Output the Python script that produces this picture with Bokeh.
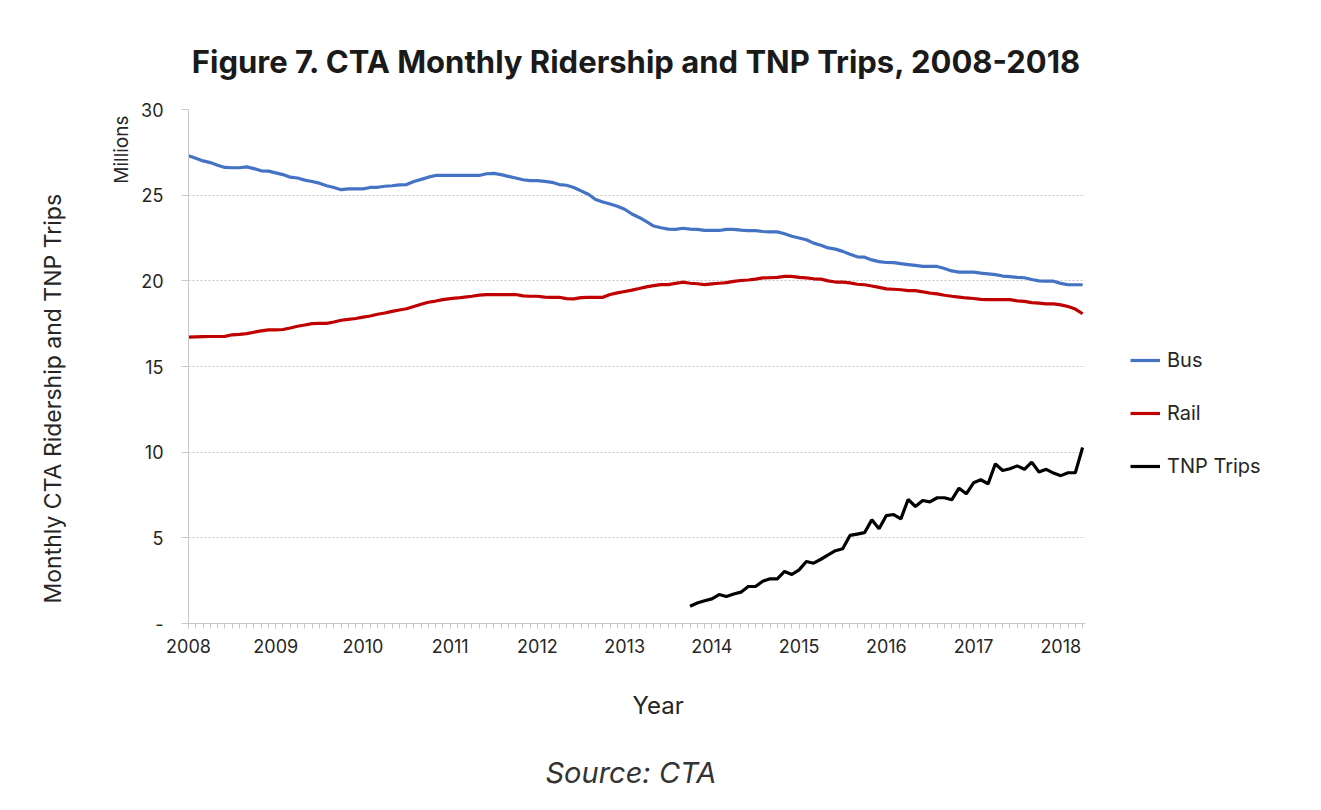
from bokeh.plotting import figure
from bokeh.models import Legend, LegendItem, FixedTicker, Range1d, Title
from bokeh.embed import file_html
from bokeh.resources import INLINE

# ---- data (millions) ----
year_labels = ["2008", "2009", "2010", "2011", "2012", "2013", "2014", "2015", "2016", "2017", "2018"]

bus = [
    27.30, 27.15, 27.00, 26.90, 26.75, 26.62, 26.60, 26.60, 26.65, 26.55,
    26.42, 26.40, 26.30, 26.20, 26.05, 26.00, 25.88, 25.80, 25.70, 25.55,
    25.45, 25.32, 25.37, 25.37, 25.37, 25.45, 25.46, 25.52, 25.55, 25.60,
    25.62, 25.80, 25.92, 26.05, 26.15, 26.15, 26.15, 26.15, 26.15, 26.15,
    26.15, 26.25, 26.27, 26.20, 26.10, 26.00, 25.90, 25.85, 25.85, 25.80,
    25.75, 25.62, 25.58, 25.45, 25.25, 25.05, 24.75, 24.60, 24.48, 24.35,
    24.18, 23.90, 23.70, 23.45, 23.20, 23.10, 23.02, 23.00, 23.07, 23.02,
    23.00, 22.95, 22.94, 22.94, 23.00, 23.00, 22.96, 22.93, 22.93, 22.88,
    22.86, 22.86, 22.75, 22.60, 22.50, 22.40, 22.20, 22.08, 21.92, 21.85,
    21.72, 21.55, 21.40, 21.38, 21.22, 21.12, 21.07, 21.06, 21.00, 20.95,
    20.90, 20.84, 20.84, 20.84, 20.72, 20.58, 20.51, 20.51, 20.51, 20.45,
    20.41, 20.36, 20.28, 20.25, 20.20, 20.18, 20.08, 20.00, 19.98, 19.98,
    19.85, 19.77, 19.77, 19.77,
]

rail = [
    16.71, 16.73, 16.74, 16.75, 16.75, 16.76, 16.85, 16.88, 16.92, 17.00,
    17.08, 17.14, 17.14, 17.16, 17.25, 17.35, 17.42, 17.50, 17.52, 17.52,
    17.60, 17.70, 17.75, 17.80, 17.88, 17.95, 18.05, 18.12, 18.22, 18.30,
    18.37, 18.50, 18.63, 18.75, 18.82, 18.90, 18.96, 19.00, 19.05, 19.10,
    19.17, 19.20, 19.20, 19.20, 19.20, 19.20, 19.12, 19.10, 19.10, 19.05,
    19.04, 19.04, 18.96, 18.95, 19.02, 19.04, 19.04, 19.04, 19.20, 19.30,
    19.38, 19.46, 19.55, 19.65, 19.72, 19.78, 19.78, 19.85, 19.92, 19.86,
    19.83, 19.78, 19.82, 19.86, 19.90, 19.97, 20.02, 20.05, 20.10, 20.17,
    20.18, 20.20, 20.26, 20.26, 20.20, 20.17, 20.12, 20.10, 20.00, 19.93,
    19.92, 19.88, 19.80, 19.77, 19.70, 19.62, 19.53, 19.51, 19.48, 19.43,
    19.43, 19.36, 19.28, 19.24, 19.16, 19.10, 19.05, 19.00, 18.97, 18.92,
    18.90, 18.90, 18.90, 18.90, 18.83, 18.80, 18.73, 18.70, 18.66, 18.66,
    18.60, 18.50, 18.35, 18.08,
]

# TNP trips start October 2013 (month index 69)
tnp_start_index = 69
tnp = [
    1.01, 1.20, 1.33, 1.44, 1.69, 1.58, 1.72, 1.83, 2.16, 2.16,
    2.47, 2.61, 2.61, 3.04, 2.86, 3.13, 3.62, 3.52, 3.75, 4.00,
    4.25, 4.36, 5.14, 5.22, 5.30, 6.05, 5.53, 6.30, 6.36, 6.11,
    7.24, 6.83, 7.18, 7.10, 7.34, 7.34, 7.22, 7.90, 7.57, 8.21,
    8.39, 8.15, 9.32, 8.93, 9.03, 9.20, 9.00, 9.42, 8.84, 9.00,
    8.78, 8.63, 8.80, 8.80, 10.27,
]

y_ticks = [0, 5, 10, 15, 20, 25, 30]
y_tick_labels = ["-", "5", "10", "15", "20", "25", "30"]

month_idx = list(range(len(bus)))
tnp_idx = list(range(tnp_start_index, tnp_start_index + len(tnp)))
year_pos = [12 * i for i in range(len(year_labels))]

FONT = "Inter"
TXT = "#262626"

p = figure(frame_width=897, frame_height=514, output_backend="svg", toolbar_location=None,
           x_range=Range1d(0, 123.4), y_range=Range1d(0, 30),
           min_border_left=188, min_border_right=225, min_border_top=109, min_border_bottom=0)
p.outline_line_color = None
p.background_fill_color = "white"
p.border_fill_color = "white"

# grid
p.xgrid.grid_line_color = None
p.ygrid.grid_line_color = "#c8c8c8"
p.ygrid.grid_line_dash = "2 2"
p.ygrid.grid_line_width = 1

# x axis
p.xaxis.ticker = FixedTicker(ticks=year_pos, minor_ticks=month_idx + [124])
p.xaxis.major_label_overrides = {pos: lab for pos, lab in zip(year_pos, year_labels)}
p.xaxis.axis_line_color = "#c8c8c8"
p.xaxis.major_tick_line_color = "#c8c8c8"
p.xaxis.minor_tick_line_color = "#c8c8c8"
p.xaxis.major_tick_out = 5
p.xaxis.major_tick_in = 0
p.xaxis.minor_tick_out = 5
p.xaxis.minor_tick_in = 0
p.xaxis.major_label_standoff = 10
p.xaxis.major_label_text_font = FONT
p.xaxis.major_label_text_font_size = "18px"
p.xaxis.major_label_text_color = TXT

# y axis
p.yaxis.ticker = FixedTicker(ticks=y_ticks)
p.yaxis.major_label_overrides = {t: l for t, l in zip(y_ticks, y_tick_labels)}
p.yaxis.axis_line_color = "#c8c8c8"
p.yaxis.major_tick_line_color = "#c8c8c8"
p.yaxis.major_tick_out = 7
p.yaxis.major_tick_in = 0
p.yaxis.minor_tick_line_color = None
p.yaxis.major_label_standoff = 18
p.yaxis.major_label_text_font = FONT
p.yaxis.major_label_text_font_size = "18px"
p.yaxis.major_label_text_color = TXT

# lines
r_bus = p.line(month_idx, bus, line_color="#4472C4", line_width=3.2)
r_rail = p.line(month_idx, rail, line_color="#C00000", line_width=3.2)
r_tnp = p.line(tnp_idx, tnp, line_color="#000000", line_width=3.2)

legend = Legend(items=[LegendItem(label="Bus", renderers=[r_bus]),
                       LegendItem(label="Rail", renderers=[r_rail]),
                       LegendItem(label="TNP Trips", renderers=[r_tnp])],
                location="top_left")
legend.title = " "
legend.title_text_font_size = "10px"
legend.title_standoff = 183
legend.border_line_color = None
legend.background_fill_alpha = 0
legend.label_text_font = FONT
legend.label_text_font_size = "20px"
legend.label_text_color = TXT
legend.glyph_width = 30
legend.glyph_height = 24
legend.label_height = 24
legend.spacing = 29
legend.padding = 10
legend.margin = 45
legend.label_standoff = 7
p.add_layout(legend, "right")

# titles / labels
p.title.text = "Figure 7. CTA Monthly Ridership and TNP Trips, 2008-2018"
p.title.align = "center"
p.title.text_font = FONT
p.title.text_font_style = "bold"
p.title.text_font_size = "31px"
p.title.text_color = "#1a1a1a"
p.title.standoff = 59

p.add_layout(Title(text="Millions", align="right", offset=6,
                   text_font=FONT, text_font_style="normal", text_font_size="19px",
                   text_color=TXT, standoff=11), "left")
p.add_layout(Title(text="Monthly CTA Ridership and TNP Trips", align="left", offset=20,
                   text_font=FONT, text_font_style="normal", text_font_size="23px",
                   text_color=TXT, standoff=71), "left")

p.add_layout(Title(text="Year", align="left", offset=444,
                   text_font=FONT, text_font_style="normal", text_font_size="24px",
                   text_color=TXT, standoff=66), "below")
p.add_layout(Title(text="Source: CTA", align="left", offset=357,
                   text_font=FONT, text_font_style="italic", text_font_size="29px",
                   text_color="#333333", standoff=0), "below")

open("out.html", "w").write(file_html(p, INLINE))
